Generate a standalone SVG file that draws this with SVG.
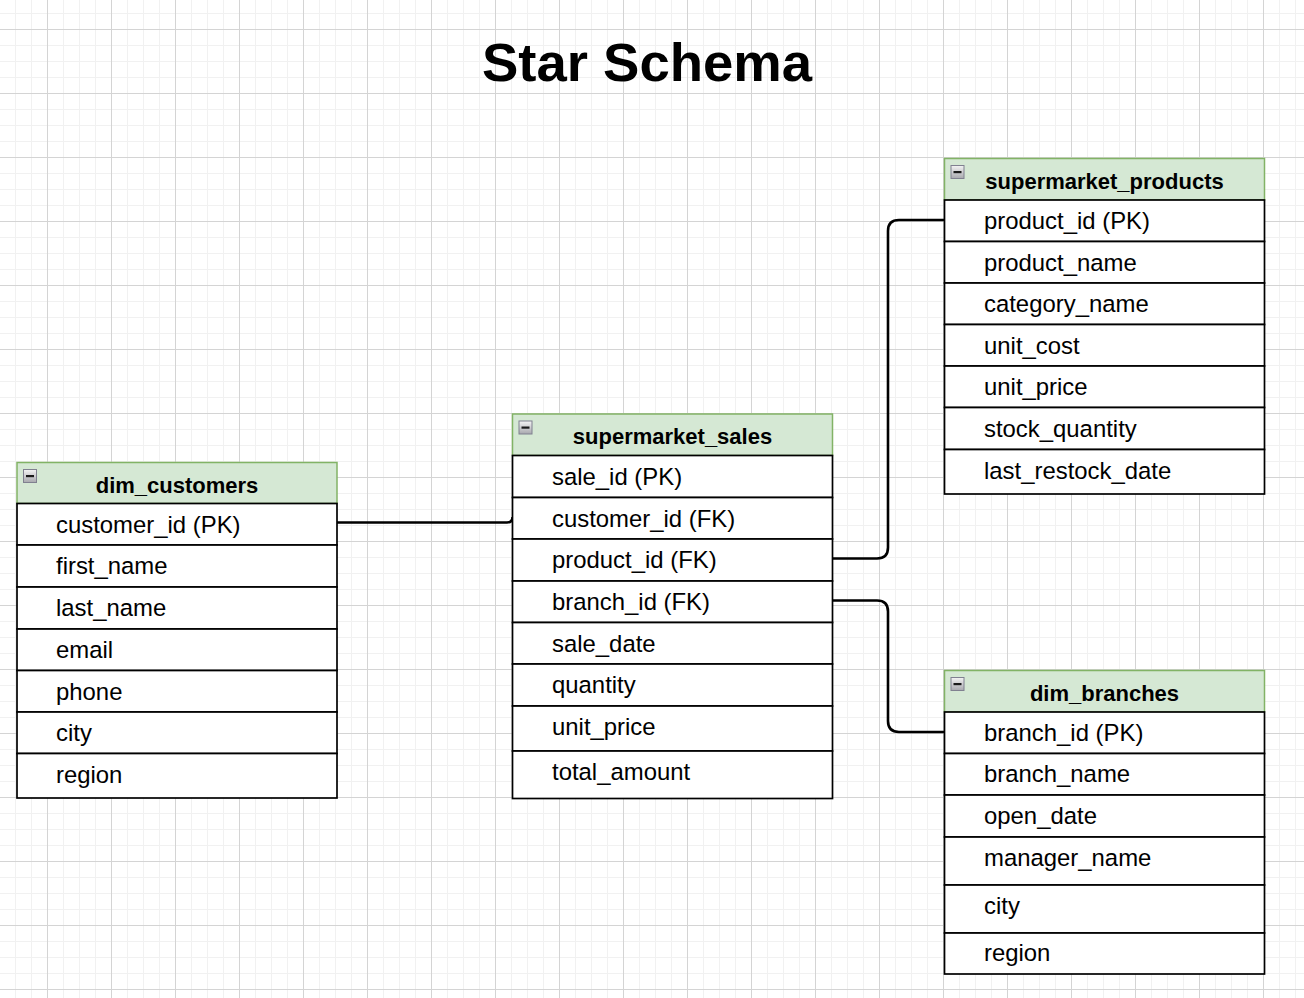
<svg xmlns="http://www.w3.org/2000/svg" width="1304" height="998" viewBox="0 0 1304 998">
  <defs>
    <pattern id="grid" patternUnits="userSpaceOnUse" x="47" y="29" width="64" height="64">
      <path d="M16.5 0V64M32.5 0V64M48.5 0V64M0 16.5H64M0 32.5H64M0 48.5H64" stroke="#f1f1f1" stroke-width="1" fill="none"/>
      <path d="M0.5 0V64M0 0.5H64" stroke="#d4d4d4" stroke-width="1" fill="none"/>
    </pattern>
    <linearGradient id="btn" x1="0" y1="0" x2="0" y2="1">
      <stop offset="0" stop-color="#f4f4f4"/>
      <stop offset="1" stop-color="#a8a8ae"/>
    </linearGradient>
    <g id="icon">
      <rect x="0.5" y="0.5" width="13" height="13" fill="url(#btn)" stroke="#808090" stroke-width="1"/>
      <rect x="3" y="6" width="8" height="2.2" fill="#1a1a1a"/>
    </g>
  </defs>
  <style>
    .hdr { fill: #d5e8d4; stroke: #82b366; stroke-width: 1.5; }
    .row { fill: #ffffff; stroke: #000000; stroke-width: 1.7; }
    .ht { font-family: "Liberation Sans", Arial, sans-serif; font-weight: bold; font-size: 22px; fill: #000; text-anchor: middle; }
    .rt { font-family: "Liberation Sans", Arial, sans-serif; font-size: 23.9px; fill: #000; }
    .title { font-family: "Liberation Sans", Arial, sans-serif; font-weight: bold; font-size: 54.5px; fill: #000; text-anchor: middle; }
    .conn { fill: none; stroke: #000; stroke-width: 2.6; stroke-linejoin: round; }
  </style>
  <rect width="1304" height="998" fill="#ffffff"/>
  <rect width="1304" height="998" fill="url(#grid)"/>

  <text class="title" x="647" y="81">Star Schema</text>

  <g id="connectors">
    <path class="conn" d="M337 522.5H507Q512.5 522.5 512.5 517"/>
    <path class="conn" d="M833 558.5H877Q888 558.5 888 547.5V231Q888 220 899 220H944.5"/>
    <path class="conn" d="M833 600.5H877Q888 600.5 888 611.5V721Q888 732 899 732H944.5"/>
  </g>

  <g id="dim_customers">
    <rect class="hdr" x="17" y="462.5" width="320" height="41"/>
    <use href="#icon" x="23" y="469"/>
    <text class="ht" x="177" y="492.8">dim_customers</text>
    <rect class="row" x="17" y="503.5" width="320" height="41.5"/>
    <rect class="row" x="17" y="545" width="320" height="42"/>
    <rect class="row" x="17" y="587" width="320" height="42"/>
    <rect class="row" x="17" y="629" width="320" height="41.5"/>
    <rect class="row" x="17" y="670.5" width="320" height="41.5"/>
    <rect class="row" x="17" y="712" width="320" height="41.5"/>
    <rect class="row" x="17" y="753.5" width="320" height="44.5"/>
    <text class="rt" x="56" y="532.5">customer_id (PK)</text>
    <text class="rt" x="56" y="574">first_name</text>
    <text class="rt" x="56" y="616">last_name</text>
    <text class="rt" x="56" y="657.5">email</text>
    <text class="rt" x="56" y="699.5">phone</text>
    <text class="rt" x="56" y="741">city</text>
    <text class="rt" x="56" y="782.5">region</text>
  </g>

  <g id="supermarket_sales">
    <rect class="hdr" x="512.5" y="414" width="320" height="41.5"/>
    <use href="#icon" x="518.5" y="420.5"/>
    <text class="ht" x="672.5" y="444.3">supermarket_sales</text>
    <rect class="row" x="512.5" y="455.5" width="320" height="42"/>
    <rect class="row" x="512.5" y="497.5" width="320" height="41.5"/>
    <rect class="row" x="512.5" y="539" width="320" height="42"/>
    <rect class="row" x="512.5" y="581" width="320" height="41.5"/>
    <rect class="row" x="512.5" y="622.5" width="320" height="41.5"/>
    <rect class="row" x="512.5" y="664" width="320" height="42"/>
    <rect class="row" x="512.5" y="706" width="320" height="45"/>
    <rect class="row" x="512.5" y="751" width="320" height="47.5"/>
    <text class="rt" x="552" y="484.5">sale_id (PK)</text>
    <text class="rt" x="552" y="526.5">customer_id (FK)</text>
    <text class="rt" x="552" y="568">product_id (FK)</text>
    <text class="rt" x="552" y="610">branch_id (FK)</text>
    <text class="rt" x="552" y="651.5">sale_date</text>
    <text class="rt" x="552" y="693">quantity</text>
    <text class="rt" x="552" y="735">unit_price</text>
    <text class="rt" x="552" y="779.5">total_amount</text>
  </g>

  <g id="supermarket_products">
    <rect class="hdr" x="944.5" y="158.5" width="320" height="41.5"/>
    <use href="#icon" x="950.5" y="165"/>
    <text class="ht" x="1104.5" y="188.5">supermarket_products</text>
    <rect class="row" x="944.5" y="200" width="320" height="41.5"/>
    <rect class="row" x="944.5" y="241.5" width="320" height="41.5"/>
    <rect class="row" x="944.5" y="283" width="320" height="41.5"/>
    <rect class="row" x="944.5" y="324.5" width="320" height="41.5"/>
    <rect class="row" x="944.5" y="366" width="320" height="41.5"/>
    <rect class="row" x="944.5" y="407.5" width="320" height="42"/>
    <rect class="row" x="944.5" y="449.5" width="320" height="44.5"/>
    <text class="rt" x="984" y="229">product_id (PK)</text>
    <text class="rt" x="984" y="270.5">product_name</text>
    <text class="rt" x="984" y="312">category_name</text>
    <text class="rt" x="984" y="353.5">unit_cost</text>
    <text class="rt" x="984" y="395">unit_price</text>
    <text class="rt" x="984" y="436.5">stock_quantity</text>
    <text class="rt" x="984" y="478.5">last_restock_date</text>
  </g>

  <g id="dim_branches">
    <rect class="hdr" x="944.5" y="670.5" width="320" height="41.5"/>
    <use href="#icon" x="950.5" y="677"/>
    <text class="ht" x="1104.5" y="700.7">dim_branches</text>
    <rect class="row" x="944.5" y="712" width="320" height="41.5"/>
    <rect class="row" x="944.5" y="753.5" width="320" height="41.5"/>
    <rect class="row" x="944.5" y="795" width="320" height="42"/>
    <rect class="row" x="944.5" y="837" width="320" height="48"/>
    <rect class="row" x="944.5" y="885" width="320" height="48"/>
    <rect class="row" x="944.5" y="933" width="320" height="41"/>
    <text class="rt" x="984" y="740.7">branch_id (PK)</text>
    <text class="rt" x="984" y="782">branch_name</text>
    <text class="rt" x="984" y="824">open_date</text>
    <text class="rt" x="984" y="866">manager_name</text>
    <text class="rt" x="984" y="913.5">city</text>
    <text class="rt" x="984" y="961">region</text>
  </g>
</svg>
